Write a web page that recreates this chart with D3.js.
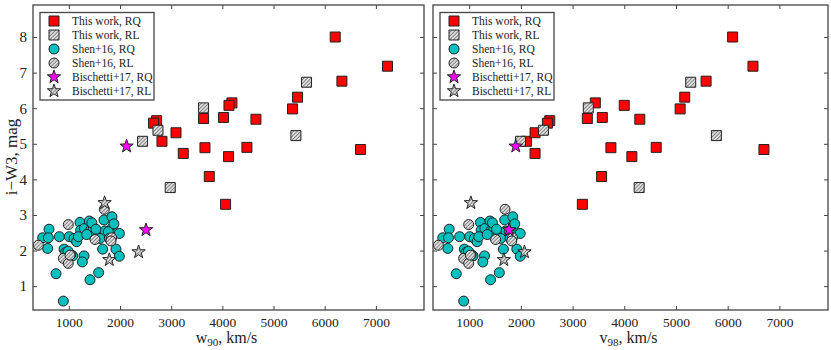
<!DOCTYPE html>
<html>
<head>
<meta charset="utf-8">
<script src="https://cdn.jsdelivr.net/npm/d3@7"></script>
<style>
body { margin: 0; background: #fff; }
text { font-family: "Liberation Serif", "DejaVu Serif", serif; fill: #222; }
</style>
</head>
<body>
<script>
// This work, radio-quiet
const workRQ_w90 = [6205, 7227, 6336, 5469, 5371, 6700, 4656, 4480, 4187, 4129, 4023, 4121, 4063, 3744, 3660, 3633, 2715, 2656, 2820, 3094, 3236];
const workRQ_v98 = [6095, 6489, 5582, 5169, 5080, 6701, 4300, 4617, 3440, 3999, 3575, 4146, 3189, 3561, 3741, 3285, 2558, 2513, 2108, 2274, 2274];
const workRQ_iW3 = [8.0, 7.18, 6.76, 6.31, 5.98, 4.84, 5.69, 4.90, 6.15, 6.08, 5.74, 4.64, 3.30, 4.08, 4.89, 5.71, 5.65, 5.58, 5.07, 5.31, 4.73];
// This work, radio-loud
const workRL_w90 = [5645, 5437, 3633, 2742, 2441, 2982];
const workRL_v98 = [5285, 5781, 3304, 2436, 1992, 4288];
const workRL_iW3 = [6.73, 5.23, 6.01, 5.38, 5.07, 3.77];
// Shen+16 (same velocity in both panels)
const shenRQ_v = [893, 750, 1414, 1583, 613, 489, 600, 587, 815, 906, 938, 1010, 1075, 1101, 1153, 1218, 1231, 1297, 1264, 1303, 1401, 1427, 1479, 1479, 1564, 1661, 1687, 1707, 1843, 1850, 1856, 1921, 1987, 1987, 1772, 1186, 1349, 1609, 1036, 984, 1791, 1450, 1880, 1530];
const shenRQ_iW3 = [0.58, 1.35, 1.18, 1.38, 2.60, 2.36, 2.36, 2.06, 2.39, 2.04, 1.95, 2.39, 1.85, 2.34, 2.25, 2.79, 2.57, 1.85, 1.68, 2.62, 2.83, 2.57, 2.62, 2.41, 2.53, 2.04, 2.86, 2.55, 2.95, 2.64, 2.45, 2.04, 1.84, 2.48, 2.53, 2.39, 2.45, 2.34, 1.89, 1.98, 2.34, 2.78, 2.75, 2.60];
const shenRL_v = [405, 990, 1694, 893, 990, 1511, 1837, 1824, 1023];
const shenRL_iW3 = [2.15, 2.73, 3.16, 1.78, 1.64, 2.31, 2.36, 2.27, 1.87];
// Bischetti+17
const biscRQ_w90 = [2129, 2508];
const biscRQ_v98 = [1901, 1772];
const biscRQ_iW3 = [4.93, 2.58];
const biscRL_w90 = [1699, 2363, 1791];
const biscRL_v98 = [1033, 2069, 1670];
const biscRL_iW3 = [3.34, 1.96, 1.74];

const xTicks = [1000, 2000, 3000, 4000, 5000, 6000, 7000];
const yTicks = [1, 2, 3, 4, 5, 6, 7, 8];
const legendLabels = ["This work, RQ", "This work, RL", "Shen+16, RQ", "Shen+16, RL", "Bischetti+17, RQ", "Bischetti+17, RL"];

const width = 831, height = 350;
const svg = d3.select("body").append("svg").attr("width", width).attr("height", height);

// hatch pattern for radio-loud markers
const defs = svg.append("defs");
const pat = defs.append("pattern").attr("id", "hatch")
    .attr("patternUnits", "userSpaceOnUse").attr("width", 2.6).attr("height", 2.6)
    .attr("patternTransform", "rotate(45)");
pat.append("rect").attr("width", 2.6).attr("height", 2.6).attr("fill", "#dedede");
pat.append("line").attr("x1", 0).attr("y1", 0).attr("x2", 0).attr("y2", 2.6)
    .attr("stroke", "#4a4a4a").attr("stroke-width", 1.2);

function starPath(R) {
  const r = R * 0.4;
  const pts = [];
  for (let i = 0; i < 10; i++) {
    const a = -Math.PI / 2 + i * Math.PI / 5;
    const rr = i % 2 === 0 ? R : r;
    pts.push([rr * Math.cos(a), rr * Math.sin(a)]);
  }
  return "M" + pts.map(p => p.join(",")).join("L") + "Z";
}

const styles = {
  workRQ: { shape: "sq", fill: "#ff0000" },
  workRL: { shape: "sq", fill: "url(#hatch)" },
  shenRQ: { shape: "ci", fill: "#00bfbf" },
  shenRL: { shape: "ci", fill: "url(#hatch)" },
  biscRQ: { shape: "st", fill: "#ff00ff" },
  biscRL: { shape: "st", fill: "url(#hatch)" }
};

function drawMarkers(g, pts, st) {
  const sel = g.append("g").selectAll("path").data(pts).join("path")
      .attr("transform", d => `translate(${d[0]},${d[1]})`)
      .attr("fill", st.fill)
      .attr("stroke", "#222")
      .attr("stroke-width", 1);
  if (st.shape === "sq") sel.attr("d", "M-5,-5H5V5H-5Z");
  else if (st.shape === "ci") sel.attr("d", d3.symbol(d3.symbolCircle, Math.PI * 25)());
  else sel.attr("d", starPath(7));
}

function panel(left, right, xs, xLabelMain, xLabelSub, showY) {
  const top = 5, bottom = 310;
  const x = d3.scaleLinear().domain([300, 7940]).range([left, right]);
  const y = d3.scaleLinear().domain([0.33, 8.9]).range([bottom, top]);
  const g = svg.append("g");

  g.append("rect").attr("x", left).attr("y", top).attr("width", right - left).attr("height", bottom - top)
      .attr("fill", "#fff");

  const series = [
    ["workRQ", xs.workRQ, workRQ_iW3],
    ["workRL", xs.workRL, workRL_iW3],
    ["shenRQ", shenRQ_v, shenRQ_iW3],
    ["shenRL", shenRL_v, shenRL_iW3],
    ["biscRQ", xs.biscRQ, biscRQ_iW3],
    ["biscRL", xs.biscRL, biscRL_iW3]
  ];
  series.forEach(([key, xv, yv]) => {
    drawMarkers(g, xv.map((v, i) => [x(v), y(yv[i])]), styles[key]);
  });

  // axes with inward ticks on all sides
  const ax = g.append("g").attr("transform", `translate(0,${bottom})`)
      .call(d3.axisBottom(x).tickValues(xTicks).tickFormat(d3.format("d")).tickSizeInner(-4).tickSizeOuter(0).tickPadding(7));
  g.append("g").attr("transform", `translate(0,${top})`)
      .call(d3.axisTop(x).tickValues(xTicks).tickSizeInner(-4).tickSizeOuter(0).tickFormat(""));
  const ay = g.append("g").attr("transform", `translate(${left},0)`)
      .call(d3.axisLeft(y).tickValues(yTicks).tickSizeInner(-4).tickSizeOuter(0).tickPadding(6)
        .tickFormat(showY ? d3.format("d") : ""));
  g.append("g").attr("transform", `translate(${right},0)`)
      .call(d3.axisRight(y).tickValues(yTicks).tickSizeInner(-4).tickSizeOuter(0).tickFormat(""));
  g.selectAll(".domain").remove();
  g.selectAll(".tick line").attr("stroke", "#444");
  ax.selectAll("text").attr("font-size", 13.5).attr("font-family", "Liberation Serif").attr("fill", "#333");
  ay.selectAll("text").attr("font-size", 15).attr("font-family", "Liberation Serif").attr("fill", "#333");

  g.append("rect").attr("x", left).attr("y", top).attr("width", right - left).attr("height", bottom - top)
      .attr("fill", "none").attr("stroke", "#444").attr("stroke-width", 1.3);

  // x label
  const xl = g.append("text").attr("x", (left + right) / 2 - 2).attr("y", 343)
      .attr("text-anchor", "middle").attr("font-size", 16).attr("fill", "#333");
  xl.append("tspan").text(xLabelMain);
  xl.append("tspan").attr("font-size", 11).attr("dy", 3).text(xLabelSub);
  xl.append("tspan").attr("dy", -3).text(", km/s");

  // legend
  const lx = left + 7, ly = 12.5;
  const lg = g.append("g");
  lg.append("rect").attr("x", lx).attr("y", ly).attr("width", 114).attr("height", 87.5)
      .attr("fill", "#fff").attr("stroke", "#444").attr("stroke-width", 1.3);
  const keys = ["workRQ", "workRL", "shenRQ", "shenRL", "biscRQ", "biscRL"];
  keys.forEach((k, i) => {
    const yy = ly + 8.5 + i * 14;
    drawMarkers(lg, [[lx + 14, yy]], styles[k]);
    lg.append("text").attr("x", lx + 32).attr("y", yy + 4).attr("font-size", 11.5).attr("fill", "#444")
        .text(legendLabels[i]);
  });
}

panel(33, 424, { workRQ: workRQ_w90, workRL: workRL_w90, biscRQ: biscRQ_w90, biscRL: biscRL_w90 }, "w", "90", true);
panel(433, 828, { workRQ: workRQ_v98, workRL: workRL_v98, biscRQ: biscRQ_v98, biscRL: biscRL_v98 }, "v", "98", false);

// y label
svg.append("text").attr("transform", "translate(17,157) rotate(-90)")
    .attr("text-anchor", "middle").attr("font-size", 17).attr("fill", "#333").text("i\u2212W3, mag");
</script>
</body>
</html>
